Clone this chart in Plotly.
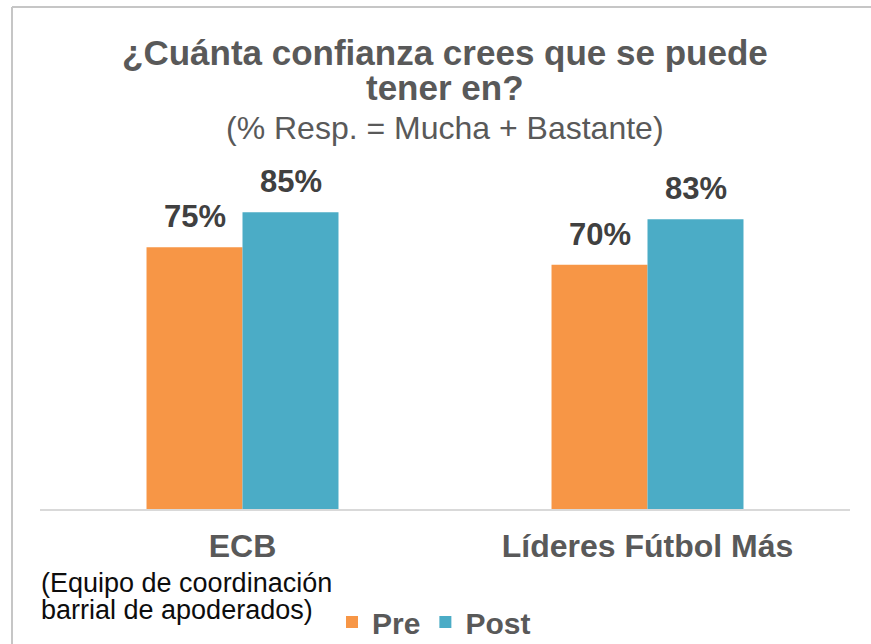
import plotly.graph_objects as go

categories = ["ECB", "Líderes Fútbol Más"]
series_names = ["Pre", "Post"]
pre_values = [75, 70]
post_values = [85, 83]
colors = ["#F79646", "#4BACC6"]

title_line1 = "¿Cuánta confianza crees que se puede"
title_line2 = "tener en?"
subtitle = "(% Resp. = Mucha + Bastante)"
note_line1 = "(Equipo de coordinación"
note_line2 = "barrial de apoderados)"

W, H = 871, 644
ML, MR, MT, MB = 40, 21, 160, 135
PW = W - ML - MR
PH = H - MT - MB
BAR_PX = 96

def px_x(x):
    return (x - ML) / PW

def px_y(y):
    return (H - MB - y) / PH

FONT = "Liberation Sans, Arial, sans-serif"

fig = go.Figure()
for name, vals, col in zip(series_names, [pre_values, post_values], colors):
    fig.add_trace(go.Bar(
        x=categories, y=vals, name=name,
        marker=dict(color=col, line=dict(width=0)),
    ))

# data labels above bars
for i, vals in enumerate([pre_values, post_values]):
    for cat, v in zip(categories, vals):
        fig.add_annotation(
            x=cat, y=v, xref="x", yref="y", text=f"{v}%",
            xshift=(i - 0.5) * BAR_PX, yshift=11,
            xanchor="center", yanchor="bottom", showarrow=False,
            font=dict(family=FONT, size=31, color="#404040", weight="bold"),
        )

fig.update_layout(
    width=W, height=H,
    margin=dict(l=ML, r=MR, t=MT, b=MB, autoexpand=False),
    paper_bgcolor="white", plot_bgcolor="white",
    barmode="group", bargap=0.526, bargroupgap=0,
    font=dict(family=FONT),
    showlegend=True,
    legend=dict(
        orientation="h", x=px_x(332), xanchor="left",
        yref="container", y=1 - 622 / H, yanchor="middle",
        font=dict(family=FONT, size=30, color="#595959", weight="bold"),
        bgcolor="rgba(0,0,0,0)", itemwidth=30, tracegroupgap=0,
    ),
    xaxis=dict(
        showgrid=False, showline=True, linecolor="#D9D9D9", linewidth=1.5,
        ticks="", tickfont=dict(family=FONT, size=32, color="#595959", weight="bold"),
        ticklabelstandoff=8, automargin=False,
    ),
    yaxis=dict(range=[0, 100], visible=False, showgrid=False, automargin=False),
)

anns = [
    (title_line1, 53, 35, "bold"),
    (title_line2, 88, 35, "bold"),
    (subtitle, 128, 32, "normal"),
]
for txt, y, s, wgt in anns:
    fig.add_annotation(
        text=txt, xref="paper", yref="paper", x=px_x(ML + PW / 2), y=px_y(y),
        xanchor="center", yanchor="middle", showarrow=False,
        font=dict(family=FONT, size=s, color="#595959", weight=wgt),
    )
for txt, y in [(note_line1, 583), (note_line2, 610)]:
    fig.add_annotation(
        text=txt, xref="paper", yref="paper", x=px_x(39), y=px_y(y),
        xanchor="left", yanchor="middle", showarrow=False,
        font=dict(family=FONT, size=27, color="#0D0D0D"),
    )

border = "#C6C6C6"
fig.add_shape(type="line", xref="paper", yref="paper",
              x0=px_x(12), x1=px_x(W + 10), y0=px_y(7), y1=px_y(7),
              line=dict(color=border, width=2))
fig.add_shape(type="line", xref="paper", yref="paper",
              x0=px_x(12), x1=px_x(12), y0=px_y(7), y1=px_y(H + 10),
              line=dict(color=border, width=2))

fig.write_html(
    "out.html",
    config={"displayModeBar": False},
    post_script="document.body.style.margin='0';document.body.style.overflow='hidden';",
)
